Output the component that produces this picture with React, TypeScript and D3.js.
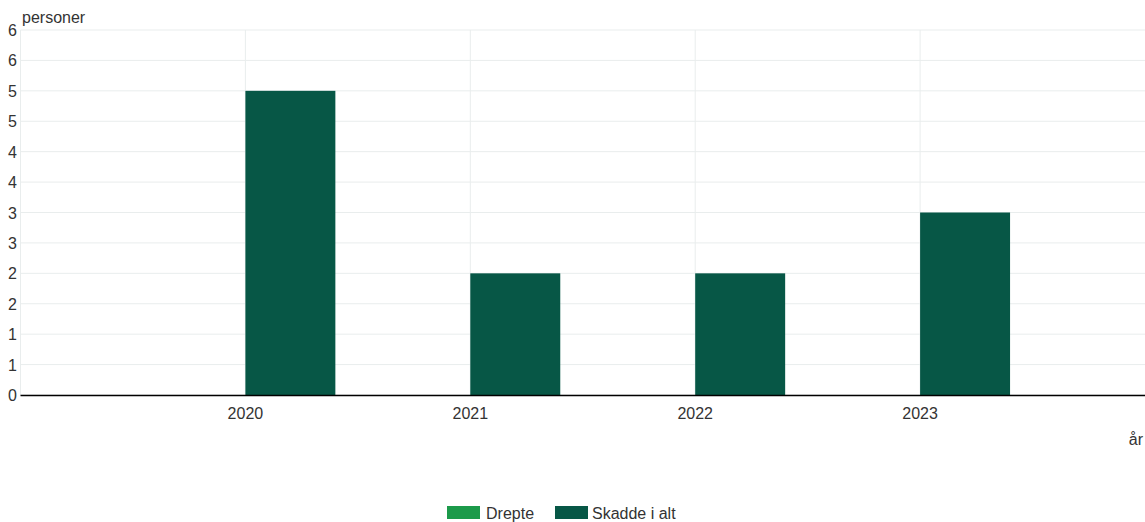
import React from "react";
import * as d3 from "d3";

const years = [2020, 2021, 2022, 2023];
const drepte = [0, 0, 0, 0];
const skadde = [5, 2, 2, 3];
const yTicks = [0, 0.5, 1, 1.5, 2, 2.5, 3, 3.5, 4, 4.5, 5, 5.5, 6];
const yTickLabels = ["0", "1", "1", "2", "2", "3", "3", "4", "4", "5", "5", "6", "6"];
const seriesNames = ["Drepte", "Skadde i alt"];
const seriesColors = ["#1c9a4a", "#075746"];

const W = 1145;
const H = 522;
const left = 20.5;
const right = 1145;
const top = 30;
const bottom = 395;
const font = "'Liberation Sans', Arial, sans-serif";
const fs = 16;

export default function App() {
  const x = d3.scaleLinear().domain([2019, 2024]).range([left, right]);
  const y = d3.scaleLinear().domain([0, 6]).range([bottom, top]);
  const barW = x(2019.4) - x(2019);

  return (
    <svg
      width={W}
      height={H}
      style={{ position: "absolute", left: 0, top: 0, fontFamily: font }}
    >
      {yTicks.map((t, i) => (
        <g key={i}>
          <line x1={left} x2={right} y1={y(t)} y2={y(t)} stroke="#e9eded" strokeWidth={1} />
          <text x={17} y={y(t) + 6} textAnchor="end" fontSize={fs} fill="#333">
            {yTickLabels[i]}
          </text>
        </g>
      ))}
      <line x1={left} x2={left} y1={top} y2={bottom} stroke="#e9eded" />
      {years.map((yr) => (
        <line key={yr} x1={x(yr)} x2={x(yr)} y1={top} y2={bottom} stroke="#e9eded" />
      ))}
      {years.map((yr, i) => (
        <g key={"b" + yr}>
          <rect
            x={x(yr) - barW}
            y={y(drepte[i])}
            width={barW}
            height={bottom - y(drepte[i])}
            fill={seriesColors[0]}
          />
          <rect
            x={x(yr)}
            y={y(skadde[i])}
            width={barW}
            height={bottom - y(skadde[i])}
            fill={seriesColors[1]}
          />
        </g>
      ))}
      <line x1={left} x2={right} y1={bottom + 0.5} y2={bottom + 0.5} stroke="#000" strokeWidth={1.5} />
      {years.map((yr) => (
        <text key={"t" + yr} x={x(yr)} y={419} textAnchor="middle" fontSize={fs} fill="#333">
          {yr}
        </text>
      ))}
      <text x={22} y={23} fontSize={fs} fill="#333">personer</text>
      <text x={1143} y={445} textAnchor="end" fontSize={fs} fill="#333">år</text>
      <g>
        <rect x={447} y={506} width={33} height={13} fill={seriesColors[0]} />
        <text x={486} y={519} fontSize={fs} fill="#333">{seriesNames[0]}</text>
        <rect x={555} y={506} width={33} height={13} fill={seriesColors[1]} />
        <text x={592} y={519} fontSize={fs} fill="#333">{seriesNames[1]}</text>
      </g>
    </svg>
  );
}
